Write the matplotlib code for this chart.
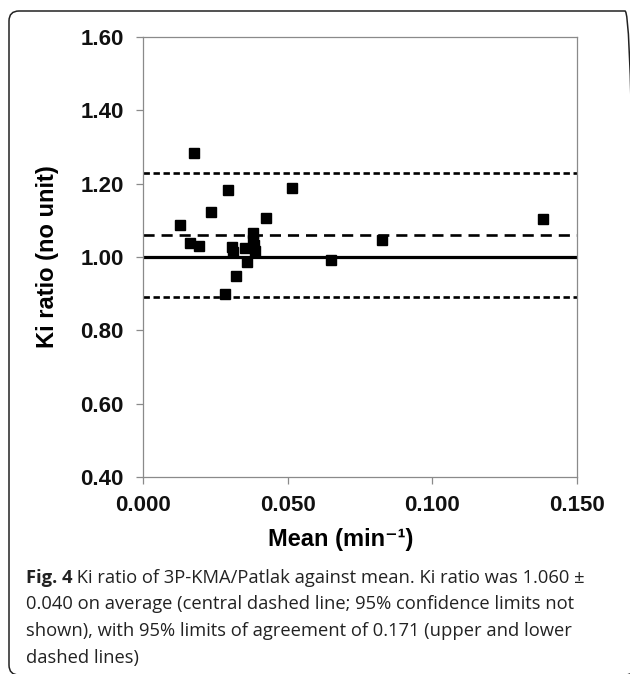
import matplotlib
matplotlib.use('Agg')
import matplotlib.pyplot as plt
from matplotlib.patches import FancyBboxPatch
from matplotlib.ticker import FormatStrFormatter

# Ki ratio (3P-KMA / Patlak) against mean Ki
mean_ki = [0.0128, 0.0162, 0.0177, 0.0194, 0.0234, 0.0283, 0.0293, 0.0309, 0.0311,
           0.0321, 0.0353, 0.0361, 0.0379, 0.0380, 0.0382, 0.0387, 0.0425, 0.0516,
           0.0649, 0.0827, 0.1384]
ki_ratio = [1.088, 1.037, 1.284, 1.030, 1.124, 0.898, 1.183, 1.028, 1.015,
            0.949, 1.024, 0.987, 1.065, 1.047, 1.033, 1.017, 1.106, 1.189,
            0.992, 1.046, 1.105]

identity = 1.00
mean_ratio = 1.06
loa_upper = 1.23
loa_lower = 0.89

x_ticks = [0.0, 0.05, 0.10, 0.15]
y_ticks = [0.4, 0.6, 0.8, 1.0, 1.2, 1.4, 1.6]

plt.rcParams['lines.scale_dashes'] = False

W, H = 630, 674
fig = plt.figure(figsize=(W / 100, H / 100), dpi=100)
ax = fig.add_axes([143 / W, 1 - 477 / H, 434 / W, 440 / H])

ax.axhline(identity, color='black', lw=2.3)
ax.axhline(mean_ratio, color='black', lw=1.9, ls=(0, (8, 5)))
ax.axhline(loa_upper, color='black', lw=1.9, ls=(0, (4.6, 2.6)))
ax.axhline(loa_lower, color='black', lw=1.9, ls=(0, (4.6, 2.6)))
ax.plot(mean_ki, ki_ratio, 's', color='black', ms=6.5, zorder=3)

ax.set_xlim(0, 0.15)
ax.set_ylim(0.4, 1.6)
ax.set_xticks(x_ticks)
ax.set_yticks(y_ticks)
ax.xaxis.set_major_formatter(FormatStrFormatter('%.3f'))
ax.yaxis.set_major_formatter(FormatStrFormatter('%.2f'))

for s in ax.spines.values():
    s.set_color('#8a8a8a')
    s.set_linewidth(0.9)
ax.tick_params(axis='both', direction='out', length=5, width=0.9, color='#8a8a8a',
               labelsize=16, labelcolor='#111111')
ax.tick_params(axis='y', pad=9)
ax.tick_params(axis='x', pad=8)
for lab in ax.get_xticklabels() + ax.get_yticklabels():
    lab.set_family('Liberation Sans')
    lab.set_weight('bold')

ax.set_ylabel('Ki ratio (no unit)', family='Liberation Sans', weight='bold',
              fontsize=17, va='center')
ax.yaxis.set_label_coords(-0.221, 0.5)
ax.set_xlabel('Mean (min\u207b\u00b9)', family=['Liberation Sans', 'DejaVu Sans'],
              weight='bold', fontsize=17, va='center')
ax.xaxis.set_label_coords(0.456, -0.141)

# caption
cap_font = 'Open Sans'
cap_size = 13.2
cap_col = '#222222'
fx = 26 / W
bold = fig.text(fx, 1 - 583 / H, 'Fig. 4', family=cap_font, weight='bold',
                fontsize=cap_size, color=cap_col, va='baseline')
ax.annotate(' Ki ratio of 3P-KMA/Patlak against mean. Ki ratio was 1.060 \u00b1',
            xy=(1, 0), xycoords=bold, va='bottom', ha='left',
            family=cap_font, fontsize=cap_size, color=cap_col, annotation_clip=False)
lines = ['0.040 on average (central dashed line; 95% confidence limits not',
         'shown), with 95% limits of agreement of 0.171 (upper and lower',
         'dashed lines)']
for i, t in enumerate(lines):
    fig.text(fx, 1 - (609 + 27 * i) / H, t, family=cap_font, fontsize=cap_size,
             color=cap_col, va='baseline')

# rounded frame around the figure
frame = FancyBboxPatch((9, -1), 626, 664, boxstyle='round,pad=0,rounding_size=10',
                       transform=None, fill=False, edgecolor='#222222', lw=1.1)
fig.patches.append(frame)

fig.savefig('out.png', dpi=100)
